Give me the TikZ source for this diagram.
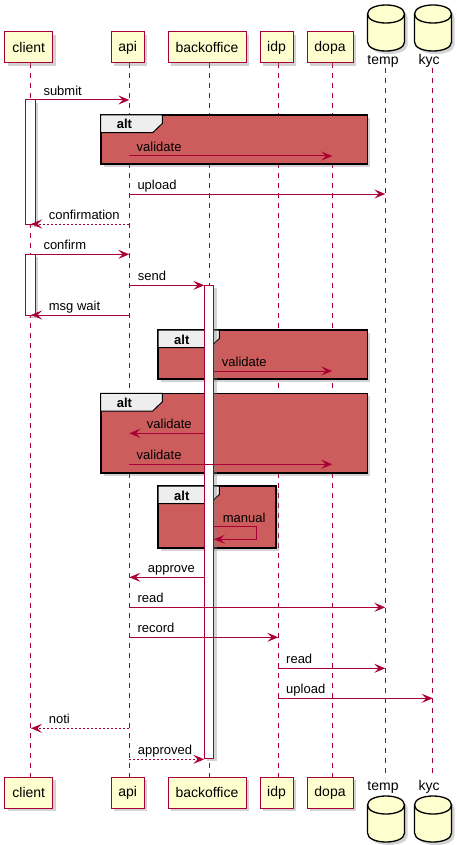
\documentclass[tikz,border=0pt]{standalone}
\usepackage{fontspec}
\setmainfont{Liberation Sans}
\usetikzlibrary{arrows.meta,shadows}
\definecolor{pline}{HTML}{A80036}
\definecolor{pfill}{HTML}{FEFECE}
\definecolor{altfill}{HTML}{CD5C5C}
\definecolor{tabfill}{HTML}{EEEEEE}
\def\XC{30.3}\def\XA{129.3}\def\XB{209.3}\def\XI{278.3}\def\XD{332.3}\def\XT{385.3}\def\XK{432.7}
\tikzset{
  shad/.style={drop shadow={shadow xshift=3pt,shadow yshift=-3pt,opacity=0.35,fill=gray}},
  part/.style={draw=pline,fill=pfill,line width=1pt,minimum height=31pt,inner sep=0pt,
    font=\fontsize{14}{16}\selectfont,shad},
  life/.style={draw=pline,line width=0.9pt,dash pattern=on 5pt off 5pt},
  msg/.style={draw=pline,line width=1pt,-{Stealth[length=11pt,width=9pt,inset=4.5pt]}},
  ret/.style={msg,dash pattern=on 2pt off 2pt},
  lbl/.style={inner sep=0pt,anchor=base west,font=\fontsize{13}{15}\selectfont},
  actbar/.style={draw=pline,fill=white,line width=1pt,shad},
  altframe/.style={draw=black,fill=altfill,line width=1.6pt,shad},
  alttab/.style={draw=black,fill=tabfill,line width=1pt},
  alttext/.style={inner sep=0pt,anchor=base west,font=\bfseries\fontsize{13}{15}\selectfont},
  dblabel/.style={inner sep=0pt,anchor=base,font=\fontsize{14}{16}\selectfont},
  db/.pic={
    \fill[gray,opacity=0.35] (-15.5,12) -- (-15.5,40) .. controls (-15.5,52) and (21.5,52) .. (21.5,40) -- (21.5,12) .. controls (21.5,0) and (-15.5,0) .. cycle;
    \draw[fill=pfill,line width=1.3pt] (-18.5,9) -- (-18.5,37) .. controls (-18.5,49) and (18.5,49) .. (18.5,37) -- (18.5,9) .. controls (18.5,-3) and (-18.5,-3) .. cycle;
    \draw[line width=1.3pt] (-18.5,9) .. controls (-18.5,21) and (18.5,21) .. (18.5,9);
  }
}
\begin{document}
\begin{tikzpicture}[x=1pt,y=-1pt]
\useasboundingbox (0,0) rectangle (456,845);
% lifelines
\foreach \x in {\XC,\XA,\XB,\XI,\XD}{\draw[life] (\x,63) -- (\x,776.7);}
\foreach \x in {\XT,\XK}{\draw[life] (\x,68) -- (\x,778);}
% participants top
\node[part,minimum width=47.7pt] (clientT) at (28.8,47.5) {client};
\node[part,minimum width=33.3pt] (apiT) at (127.7,47.5) {api};
\node[part,minimum width=78pt] (boT) at (207,47.5) {backoffice};
\node[part,minimum width=33pt] (idpT) at (276.5,47.5) {idp};
\node[part,minimum width=46pt] (dopaT) at (330,47.5) {dopa};
\pic at (386,5) {db};
\pic at (433,5) {db};
\node[dblabel] (tempT) at (383,65) {temp};
\node[dblabel] (kycT) at (429,65) {kyc};
% participants bottom
\node[part,minimum width=47.7pt] (clientB) at (28.8,792.5) {client};
\node[part,minimum width=33.3pt] (apiB) at (127.7,792.5) {api};
\node[part,minimum width=78pt] (boB) at (207,792.5) {backoffice};
\node[part,minimum width=33pt] (idpB) at (276.5,792.5) {idp};
\node[part,minimum width=46pt] (dopaB) at (330,792.5) {dopa};
\pic at (386,796) {db};
\pic at (433,796) {db};
\node[dblabel] (tempB) at (383,790) {temp};
\node[dblabel] (kycB) at (429,790) {kyc};
% alt frames
\draw[altframe] (100.7,115) rectangle (367.3,164.3);
\draw[alttab] (100.7,115) -- ++(61.6,0) -- ++(0,8.5) -- ++(-9.6,9.2) -- (100.7,132.7) -- cycle;
\node[alttext] at (116.7,129) {alt};
\draw[altframe] (158,330) rectangle (367.3,379);
\draw[alttab] (158,330) -- ++(61.3,0) -- ++(0,8.5) -- ++(-9.6,9.2) -- (158,347.7) -- cycle;
\node[alttext] at (174,344) {alt};
\draw[altframe] (100.7,393.3) rectangle (367.3,472.7);
\draw[alttab] (100.7,393.3) -- ++(61.6,0) -- ++(0,8.5) -- ++(-9.6,9.2) -- (100.7,411) -- cycle;
\node[alttext] at (116.7,407.3) {alt};
\draw[altframe] (158,486) rectangle (276,547.7);
\draw[alttab] (158,486) -- ++(61.3,0) -- ++(0,8.5) -- ++(-9.6,9.2) -- (158,503.7) -- cycle;
\node[alttext] at (174,500) {alt};
% activation bars
\draw[actbar] (25.5,100) rectangle (35.3,224);
\draw[actbar] (25.5,254.3) rectangle (35.3,315);
\draw[actbar] (204.3,285.3) rectangle (213.9,758.3);
% messages
\draw[msg] (35.3,100) -- (\XA,100); \node[lbl] at (43.3,95.3) {submit};
\draw[msg] (\XA,156) -- (\XD,156); \node[lbl] at (136.5,151.5) {validate};
\draw[msg] (\XA,194) -- (\XT,194); \node[lbl] at (137.3,189.5) {upload};
\draw[ret] (\XA,224) -- (31,224); \node[lbl] at (48.7,219.5) {confirmation};
\draw[msg] (35.3,254.3) -- (\XA,254.3); \node[lbl] at (43.3,249.8) {confirm};
\draw[msg] (\XA,285.3) -- (204.3,285.3); \node[lbl] at (137.7,280.8) {send};
\draw[msg] (\XA,315) -- (31,315); \node[lbl] at (48.7,310.5) {msg wait};
\draw[msg] (213.9,371) -- (\XD,371); \node[lbl] at (221.7,366.5) {validate};
\draw[msg] (204.3,433.3) -- (\XA,433.3); \node[lbl] at (146.7,428.8) {validate};
\draw[msg] (\XA,464.3) -- (\XD,464.3); \node[lbl] at (136.5,459.8) {validate};
\draw[msg] (213.9,526.7) -- (256.3,526.7) -- (256.3,539.3) -- (213.9,539.3); \node[lbl] at (222.7,522) {manual};
\draw[msg] (204.3,577.3) -- (\XA,577.3); \node[lbl] at (147.7,572.8) {approve};
\draw[msg] (\XA,607.3) -- (\XT,607.3); \node[lbl] at (137.3,602.8) {read};
\draw[msg] (\XA,637.3) -- (\XI,637.3); \node[lbl] at (137.3,632.8) {record};
\draw[msg] (\XI,668.3) -- (\XT,668.3); \node[lbl] at (286,663.8) {read};
\draw[msg] (\XI,698.3) -- (\XK,698.3); \node[lbl] at (286,693.8) {upload};
\draw[ret] (\XA,728.3) -- (31,728.3); \node[lbl] at (48.7,723.8) {noti};
\draw[ret] (\XA,759.3) -- (204.3,759.3); \node[lbl] at (137.7,754.8) {approved};
\end{tikzpicture}
\end{document}
